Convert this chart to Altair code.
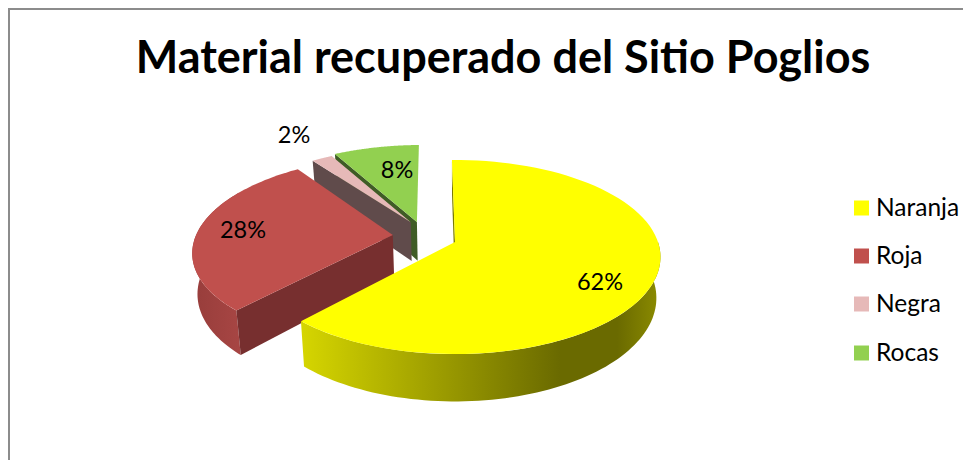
import math
import altair as alt
import pandas as pd

TITLE = "Material recuperado del Sitio Poglios"
CATEGORIES = ["Naranja", "Roja", "Negra", "Rocas"]
VALUES = [62, 28, 2, 8]
COLORS = ["#FFFF00", "#C0504D", "#E6B9B8", "#92D050"]
WALLS = ["#7A7A00", "#772F2F", "#604B4B", "#3F5C26"]
EXPLODE_U = [0.0, -0.31, -0.225, -0.194]
EXPLODE_V = [0.0, -0.075, -0.215, -0.218]
RADIUS = [1.0, 0.98, 0.97, 1.0]
LABEL_X = [600, 243, 294, 397]
LABEL_Y = [283, 231, 136, 171]
LEGEND_Y = [208, 256, 304, 353]

CX, CY, RX, RY, P, DEPTH, SHRINK = 455, 242, 203, 94.7, 0.155, 40, 0.98
W, H = 955, 452
xscale = alt.Scale(domain=[8, 963], nice=False, zero=False)
yscale = alt.Scale(domain=[460, 8], nice=False, zero=False)
xs = alt.X("x:Q", axis=None, scale=xscale)
ys = alt.Y("y:Q", axis=None, scale=yscale)


def project(u, v, low=False):
    w = 1 - P * v
    x = RX * u / w
    y = RY * v / w
    if low:
        return CX + x * SHRINK, CY + y + DEPTH / w
    return CX + x, CY + y


def rim(i, a0, a1, low=False, n=80):
    pts = []
    for k in range(n + 1):
        a = math.radians(a0 + (a1 - a0) * k / n)
        pts.append(project(EXPLODE_U[i] + RADIUS[i] * math.sin(a), EXPLODE_V[i] - RADIUS[i] * math.cos(a), low))
    return pts


def poly(pts, fill):
    df = pd.DataFrame([{"x": p[0], "y": p[1], "i": j} for j, p in enumerate(pts)])
    return alt.Chart(df).mark_line(fill=fill, stroke="transparent", strokeWidth=0, interpolate="linear").encode(
        x=xs, y=ys, order=alt.Order("i:Q")
    )


spans, start = [], -1.0
for val in VALUES:
    spans.append((start, start + val * 3.6))
    start += val * 3.6
spans[1] = (spans[1][0], spans[1][1] + 1.5)


def vertex(i, low=False):
    return project(EXPLODE_U[i], EXPLODE_V[i], low)


def face(i, a):
    e0 = rim(i, a, a, n=1)[0]
    e1 = rim(i, a, a, low=True, n=1)[0]
    return [vertex(i), e0, e1, vertex(i, True)]


yellow_grad = alt.Gradient(
    gradient="linear", x1=0, x2=1, y1=0, y2=0,
    stops=[
        alt.GradientStop(color="#D6D600", offset=0),
        alt.GradientStop(color="#A9A900", offset=0.3),
        alt.GradientStop(color="#6A6A00", offset=0.72),
        alt.GradientStop(color="#6A6A00", offset=0.88),
        alt.GradientStop(color="#8C8C00", offset=1),
    ],
)
red_grad = alt.Gradient(
    gradient="linear", x1=0, x2=1, y1=0, y2=0,
    stops=[
        alt.GradientStop(color="#973D3B", offset=0),
        alt.GradientStop(color="#A84644", offset=1),
    ],
)

layers = []
# back to front: green, pink, red, yellow
layers.append(poly(face(3, spans[3][0]), WALLS[3]))
layers.append(poly([vertex(3)] + rim(3, *spans[3]), COLORS[3]))
layers.append(poly(face(2, spans[2][0]), WALLS[2]))
layers.append(poly([vertex(2)] + rim(2, *spans[2]), COLORS[2]))
layers.append(poly(rim(1, spans[1][0], 300) + rim(1, spans[1][0], 300, low=True)[::-1], red_grad))
layers.append(poly(face(1, spans[1][0]), WALLS[1]))
layers.append(poly([vertex(1)] + rim(1, *spans[1]), COLORS[1]))
layers.append(poly(face(0, spans[0][0]), WALLS[0]))
layers.append(poly(rim(0, 90, spans[0][1]) + rim(0, 90, spans[0][1], low=True)[::-1], yellow_grad))
layers.append(poly([vertex(0)] + rim(0, *spans[0]), COLORS[0]))

labels = pd.DataFrame({
    "x": LABEL_X, "y": LABEL_Y,
    "t": [f"{v}%" for v in VALUES],
})
layers.append(alt.Chart(labels).mark_text(font="Lato", fontSize=23.5, color="#000000").encode(x=xs, y=ys, text="t:N"))

legend = pd.DataFrame({"x": [861.5] * 4, "tx": [876] * 4, "y": LEGEND_Y, "ty": [y + 1 for y in LEGEND_Y], "c": CATEGORIES, "col": COLORS})
layers.append(alt.Chart(legend).mark_square(size=225, opacity=1).encode(x=xs, y=ys, color=alt.Color("col:N", scale=None)))
layers.append(alt.Chart(legend).mark_text(font="Lato", fontSize=24.5, color="#000000", align="left", baseline="middle").encode(
    x=alt.X("tx:Q", axis=None, scale=xscale), y=alt.Y("ty:Q", axis=None, scale=yscale), text="c:N"))

layers.append(alt.Chart(pd.DataFrame({"x": [503], "y": [73], "t": [TITLE]})).mark_text(
    font="Lato", fontSize=45, fontWeight="bold", baseline="alphabetic", color="#000000").encode(x=xs, y=ys, text="t:N"))

# chart-area border
layers.append(alt.Chart(pd.DataFrame({"x": [8, 963], "y": [9, 9]})).mark_line(color="#8C8C8C", strokeWidth=2).encode(x=xs, y=ys))
layers.append(alt.Chart(pd.DataFrame({"x": [9, 9], "y": [8, 460]})).mark_line(color="#8C8C8C", strokeWidth=2).encode(x=xs, y=ys))

chart = alt.layer(*layers).properties(
    width=W, height=H, padding=0, autosize=alt.AutoSizeParams(type="none"), background="white"
).configure_view(stroke=None)

chart.save("out.html", embed_options={"renderer": "svg", "actions": False})
